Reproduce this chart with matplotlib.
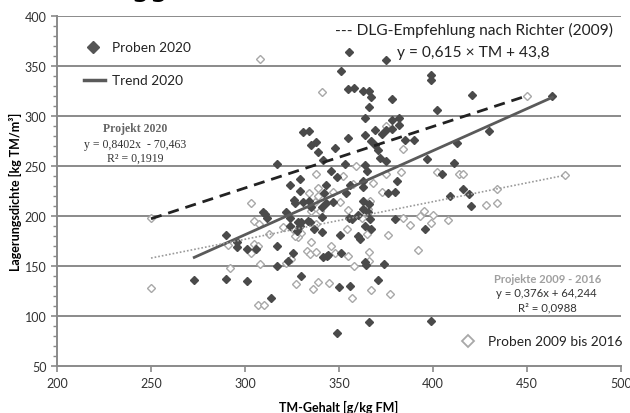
import matplotlib
matplotlib.use("Agg")
import matplotlib.pyplot as plt
import numpy as np

plt.rcParams['font.family'] = ['Lato', 'DejaVu Sans']

# Proben 2020 (TM-Gehalt, Lagerungsdichte)
x20 = [355.5, 375, 351, 399, 399, 355, 358, 363, 366, 367, 378, 421, 463.5, 366, 402,
       364, 378, 382, 382, 378, 430, 331, 334, 369, 373, 375, 364, 355, 338, 335,
       339, 348, 367, 369, 385, 390, 371, 413, 372, 375, 397, 411, 341.6, 353, 317,
       364, 365, 346, 348.7, 405, 329, 324, 343, 356, 363, 363, 380.6, 376, 329, 342,
       353.7, 416, 419, 380, 409, 420, 326, 326.6, 331, 334, 343, 347, 363, 366, 363,
       365.6, 335, 341, 322, 309.7, 310.6, 311.5, 324, 341, 360, 355.5, 357, 366.5, 380,
       328, 329, 324, 330, 333.7, 334.6, 327.5, 336.8, 341, 350.5, 360, 361, 364, 367,
       396, 290, 296, 296, 301, 306, 317, 325.7, 341.6, 343.4, 344.3, 351, 363.8, 364.4,
       374, 323, 317, 273, 290, 301, 330, 350, 356, 371, 313.6, 366, 399, 349]
y20 = [364, 356, 345, 341, 336, 327, 328, 325, 325, 319, 317, 321, 320, 309, 306,
       298, 296, 298, 291, 287, 285, 284, 285, 286, 282, 286, 281, 278, 274, 271,
       264, 268, 275, 271, 276, 276, 266, 273, 258, 255, 257, 253, 256, 252, 252,
       251, 245, 245, 239, 242, 237, 231, 231, 231, 235, 229, 235, 223, 225, 223,
       223, 227, 222, 224, 220, 210, 216, 213, 214.6, 215.6, 213, 214, 215.6, 212, 207,
       204, 209, 209.6, 204, 204, 202, 198, 198, 199.6, 201, 198, 197, 197, 197,
       194, 190.6, 190.6, 194.6, 195.6, 194, 185.6, 187, 184, 181, 180, 177, 190, 187,
       187, 181.6, 174, 169, 167, 167, 170.6, 163, 159, 160.6, 161, 163, 154, 151,
       152, 155, 150.6, 136.6, 137, 135, 140, 129, 130, 136, 118.3, 94, 95, 83]

# Proben 2009 bis 2016
x16 = [308, 341, 375, 450, 359, 338, 352, 375, 383, 402, 414, 416, 384, 434, 470,
       339, 357.6, 368, 373, 334, 346.6, 339, 337, 350.5, 303, 365.6, 366.5, 335, 340, 355,
       250, 305, 307.6, 338, 362, 384, 393, 395, 400, 399, 388, 408, 428, 434,
       320.4, 325.7, 330, 328, 326.6, 313, 354, 364.7, 376, 291, 305, 307, 335, 346,
       303, 332.8, 334.6, 338, 348, 355, 366, 392, 324.3, 292, 308, 322, 358, 366,
       250, 327, 339, 336, 344.8, 357, 367, 377, 307, 310]
y16 = [357, 324, 290, 320.6, 250, 242, 240.6, 242, 244, 244, 242, 242, 267, 227, 241.6,
       228, 232, 233, 224.6, 223, 224, 220.6, 214.6, 214, 213, 207, 215.6, 205, 205, 206.7,
       198, 195.6, 192, 192, 198, 198, 200.6, 205.6, 201.6, 193, 191, 196, 211, 213,
       189, 187, 183, 179, 180.6, 182, 187, 182, 181, 171, 172, 170.6, 174, 170.6,
       163, 165.6, 162, 164.6, 163, 160, 164.6, 166, 157, 148, 152, 153, 150, 155.6,
       128, 132, 134.6, 127, 133, 118, 126, 122, 111, 111]

# Trendlinien: Steigung, Achsenabschnitt, x-Bereich
trend20 = (0.8402, -70.463, 273, 463.5)
dlg = (0.615, 43.8, 250, 450)
trend16 = (0.376, 64.244, 250, 470)

fig = plt.figure(figsize=(6.3, 4.14), dpi=100)
ax = fig.add_axes([0.0905, 0.1128, 0.8952, 0.8454])

ax.set_xlim(200, 500)
ax.set_ylim(50, 400)
for yy in range(100, 401, 50):
    ax.axhline(yy, color='#8a8a8a', lw=1.4, zorder=1)

ax.plot(x16, y16, 'D', ms=3.7, mfc='white', mec='#a8a8a8', mew=1.0, ls='none', zorder=3)
ax.plot(x20, y20, 'D', ms=4.0, mfc='#4a4a4a', mec='#4a4a4a', ls='none', zorder=4)

def trendline(t):
    m, b, x0, x1 = t
    xs = np.array([x0, x1])
    return xs, m * xs + b

xs, ys = trendline(trend20)
ax.plot(xs, ys, color='#5a5a5a', lw=2.0, zorder=5)
xs, ys = trendline(dlg)
ax.plot(xs, ys, color='#222222', lw=2.0, ls=(0, (4, 2.5)), zorder=5)
xs, ys = trendline(trend16)
ax.plot(xs, ys, color='#9a9a9a', lw=1.2, ls=(0, (1, 1.2)), zorder=5)

for s in ['top', 'right']:
    ax.spines[s].set_visible(False)
for s in ['left', 'bottom']:
    ax.spines[s].set_color('#8a8a8a')
    ax.spines[s].set_linewidth(1.4)

ax.set_xticks(range(200, 501, 50))
ax.set_yticks(range(50, 401, 50))
ax.set_yticks(range(50, 401, 10), minor=True)
ax.tick_params(axis='both', colors='#8a8a8a', labelcolor='#333333', labelsize=9, length=4, width=1.2)
ax.tick_params(axis='y', which='minor', colors='#8a8a8a', length=3, width=1)

ax.set_xlabel('TM-Gehalt [g/kg FM]', fontsize=9, fontweight='bold', labelpad=8)
ax.set_ylabel('Lagerungsdichte [kg TM/m³]', fontsize=9, fontweight='bold', labelpad=2)

T = ax.transAxes
# Legende links oben
ax.plot([0.0638], [0.912], 'D', ms=6, color='#555555', transform=T, clip_on=False)
ax.text(0.0975, 0.912, 'Proben 2020', transform=T, fontsize=9.8, va='center', ha='left', color='#222222')
ax.plot([0.048, 0.085], [0.818, 0.818], color='#5a5a5a', lw=2.5, transform=T)
ax.text(0.0975, 0.818, 'Trend 2020', transform=T, fontsize=9.8, va='center', ha='left', color='#222222')

ax.text(0.138, 0.68, 'Projekt 2020', transform=T, fontsize=8.5, ha='center', va='center',
        family='Liberation Serif', fontweight='bold', color='#666666')
ax.text(0.138, 0.635, 'y = 0,8402x  - 70,463', transform=T, fontsize=8.5, ha='center', va='center',
        family='Liberation Serif', color='#333333')
ax.text(0.138, 0.597, 'R² = 0,1919', transform=T, fontsize=8.5, ha='center', va='center',
        family='Liberation Serif', color='#333333')

ax.text(0.739, 0.961, '--- DLG-Empfehlung nach Richter (2009)', transform=T, fontsize=11.2,
        ha='center', va='center', color='#222222')
ax.text(0.739, 0.897, 'y = 0,615 × TM + 43,8', transform=T, fontsize=11.2,
        ha='center', va='center', color='#222222')

ax.text(0.870, 0.252, 'Projekte 2009 - 2016', transform=T, fontsize=8.1, ha='center', va='center',
        fontweight='bold', color='#a0a0a0')
ax.text(0.868, 0.211, 'y = 0,376x + 64,244', transform=T, fontsize=8.2, ha='center', va='center',
        color='#333333')
ax.text(0.870, 0.170, 'R² = 0,0988', transform=T, fontsize=8.2, ha='center', va='center',
        color='#333333')

ax.plot([0.729], [0.073], 'D', ms=6, mfc='white', mec='#a8a8a8', mew=1.3, transform=T)
ax.text(0.764, 0.073, 'Proben 2009 bis 2016', transform=T, fontsize=9.8, va='center', ha='left',
        color='#222222')

# abgeschnittene Überschrift am oberen Rand
fig.text(0.237, 1.009, 'gg', fontsize=22, ha='center', va='baseline', family='DejaVu Sans', color='black')

fig.savefig('out.png', dpi=100)
